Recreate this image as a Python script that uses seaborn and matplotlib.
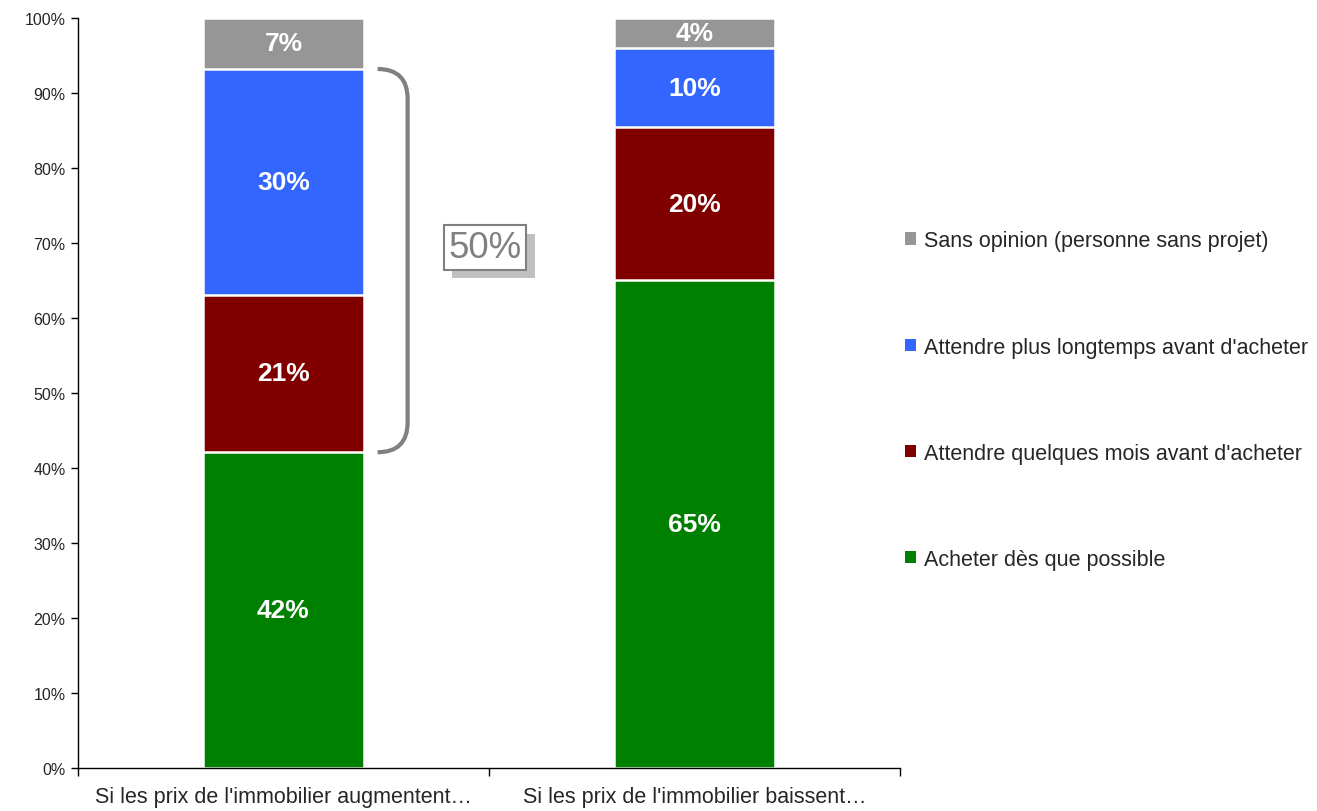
import numpy as np
import pandas as pd
import seaborn as sns
import matplotlib.pyplot as plt
import matplotlib.patheffects as pe
from matplotlib.path import Path
from matplotlib.patches import PathPatch, Patch

# Data (segment sizes, in %)
scenarios = ["Si les prix de l'immobilier augmentent…", "Si les prix de l'immobilier baissent…"]
series = ["Acheter dès que possible", "Attendre quelques mois avant d'acheter",
          "Attendre plus longtemps avant d'acheter", "Sans opinion (personne sans projet)"]
acheter = [42.1, 65.1]
quelques_mois = [21.0, 20.3]
plus_longtemps = [30.1, 10.6]
sans_opinion = [6.8, 4.0]
labels_acheter = ["42%", "65%"]
labels_quelques_mois = ["21%", "20%"]
labels_plus_longtemps = ["30%", "10%"]
labels_sans_opinion = ["7%", "4%"]
bracket_label = "50%"

colors = ["#008000", "#800000", "#3366FF", "#969696"]

values = [acheter, quelques_mois, plus_longtemps, sans_opinion]
labels = [labels_acheter, labels_quelques_mois, labels_plus_longtemps, labels_sans_opinion]

sns.set_style("white")
plt.rcParams["font.family"] = ["Liberation Sans", "DejaVu Sans"]

fig = plt.figure(figsize=(13.17, 8.12), dpi=100)
ax = fig.add_axes([0.0592, 0.053, 0.6242, 0.9236])

cum = np.cumsum(np.array(values), axis=0)
bar_w = 0.39

# stacked bars: draw cumulative totals from the top layer down
for i in reversed(range(len(series))):
    df = pd.DataFrame({"scenario": scenarios, "cum": cum[i]})
    sns.barplot(data=df, x="scenario", y="cum", color=colors[i], width=bar_w,
                edgecolor="white", linewidth=1.8, saturation=1, ax=ax)

# segment labels
for i in range(len(series)):
    for j in range(len(scenarios)):
        bottom = cum[i][j] - values[i][j]
        ax.text(j, bottom + values[i][j] / 2, labels[i][j], ha="center", va="center",
                color="white", fontsize=19, fontweight="bold")

# bracket around the two "attendre" segments of the first bar
x_l = bar_w / 2 + 0.034
x_r = bar_w / 2 + 0.107
y_top = cum[2][0]
y_bot = cum[0][0]
r = 4.0
verts = [(x_l, y_top), (x_r, y_top), (x_r, y_top - r),
         (x_r, y_bot + r), (x_r, y_bot), (x_l, y_bot)]
codes = [Path.MOVETO, Path.CURVE3, Path.CURVE3, Path.LINETO, Path.CURVE3, Path.CURVE3]
ax.add_patch(PathPatch(Path(verts, codes), fill=False, edgecolor="#808080",
                       linewidth=3, capstyle="butt", clip_on=False))

t = ax.text(0.49, 69.4, bracket_label, ha="center", va="center", fontsize=26.5,
            color="#808080",
            bbox=dict(boxstyle="square,pad=0.13", fc="white", ec="#808080", lw=1.5))
t.get_bbox_patch().set_path_effects([
    pe.SimplePatchShadow(offset=(6, -6), shadow_rgbFace="#c0c0c0", alpha=1),
    pe.Normal()])

# axes styling
ax.set_ylim(0, 100)
ax.set_xlim(-0.5, 1.5)
ax.set_yticks(np.arange(0, 101, 10))
ax.set_yticklabels([f"{v}%" for v in range(0, 101, 10)], fontsize=11.5)
ax.set_xticks([-0.5, 0.5, 1.5])
ax.set_xticklabels([])
ax.set_xticks([0, 1], minor=True)
ax.set_xticklabels(scenarios, minor=True, fontsize=15.5)
ax.tick_params(axis="x", which="major", bottom=True, direction="out", length=6, width=1,
               color="black")
ax.tick_params(axis="x", which="minor", bottom=True, length=0, pad=13)
ax.tick_params(axis="y", left=True, direction="out", length=5, width=1, color="black", pad=4)
ax.set_xlabel("")
ax.set_ylabel("")
sns.despine(ax=ax)
for s in ["left", "bottom"]:
    ax.spines[s].set_color("black")
    ax.spines[s].set_linewidth(1)

handles = [Patch(facecolor=colors[i], edgecolor="none") for i in reversed(range(len(series)))]
fig.legend(handles, list(reversed(series)), loc="center left", bbox_to_anchor=(0.679, 0.506),
           frameon=False, fontsize=15.5, handlelength=0.5, handleheight=0.5,
           handletextpad=0.4, labelspacing=3.96, borderpad=0)

fig.savefig("out.png", dpi=100)
